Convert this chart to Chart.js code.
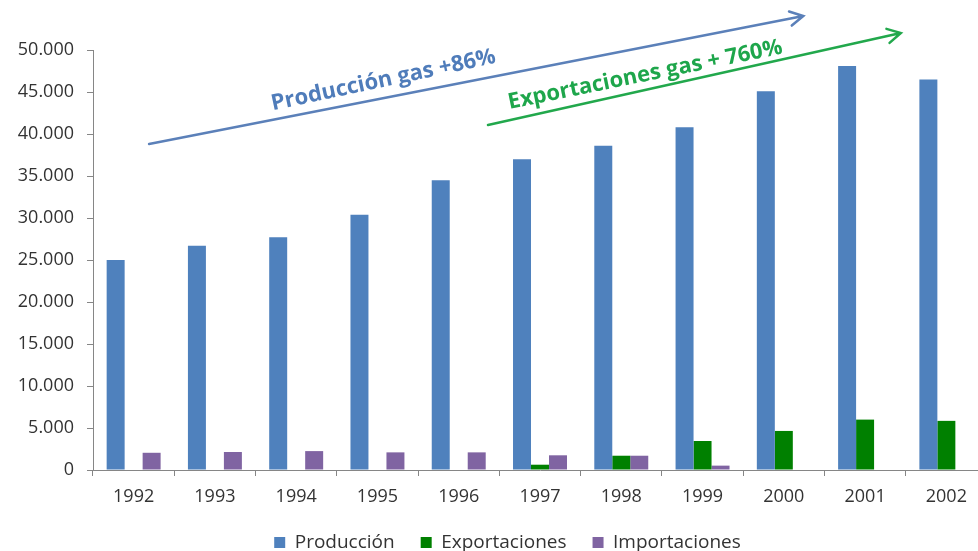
<!DOCTYPE html>
<html>
<head>
<meta charset="utf-8">
<script src="https://cdn.jsdelivr.net/npm/chart.js@4/dist/chart.umd.min.js"></script>
<style>
  html, body { margin: 0; padding: 0; background: #fff; overflow: hidden; }
  #wrap { width: 978px; height: 551px; overflow: hidden; }
</style>
</head>
<body>
<!-- el grafico original esta recortado por la derecha: el lienzo es algo mas ancho -->
<div id="wrap"><canvas id="gasChart" width="987" height="551"></canvas></div>
<script>
// --- DATOS ---
const years = ['1992', '1993', '1994', '1995', '1996', '1997', '1998', '1999', '2000', '2001', '2002'];
const produccion    = [25000, 26700, 27700, 30400, 34500, 37000, 38600, 40800, 45100, 48100, 46500];
const exportaciones = [null, null, null, null, null, 630, 1700, 3450, 4650, 6000, 5850];
const importaciones = [2050, 2140, 2250, 2100, 2100, 1750, 1700, 520, null, null, null];
const yTicks = [0, 5000, 10000, 15000, 20000, 25000, 30000, 35000, 40000, 45000, 50000];

// flechas y textos: [x (indice categoria), y (valor)]
const arrowProduccion = [[0.19, 38800], [8.24, 54050]];
const arrowExport = [[4.36, 41070], [9.44, 52020]];
const textProduccion = { label: 'Producción gas +86%', at: [3.09, 45650], angle: -12, color: '#4f7cba' };
const textExport = { label: 'Exportaciones gas + 760%', at: [6.31, 46300], angle: -11.5, color: '#1ea64b' };

const FONT = "'Open Sans', 'Noto Sans', sans-serif";

function fmtMiles(v) {
    return String(v).replace(/\B(?=(\d{3})+(?!\d))/g, '.');
}

// leyenda: menos alto y desplazada como en el original
const leyendaCompacta = {
    id: 'leyendaCompacta',
    afterInit(chart) {
        const lg = chart.legend;
        if (!lg) return;
        const origFit = lg.fit.bind(lg);
        lg.fit = function () {
            origFit();
            this.height = 44;
        };
    },
    afterLayout(chart) {
        const lg = chart.legend;
        if (!lg) return;
        lg.left += 14;
        lg.right += 14;
    }
};

// dibuja flechas y textos encima del grafico
const anotaciones = {
    id: 'anotaciones',
    afterDraw(chart) {
        const { ctx, scales: { x, y } } = chart;
        const px = p => [x.getPixelForValue(p[0]), y.getPixelForValue(p[1])];

        function flecha(pts, color) {
            const [a, b] = [px(pts[0]), px(pts[1])];
            const ang = Math.atan2(b[1] - a[1], b[0] - a[0]);
            const len = 15, spread = 0.5;
            ctx.save();
            ctx.strokeStyle = color;
            ctx.lineWidth = 2.5;
            ctx.lineCap = 'round';
            ctx.beginPath();
            ctx.moveTo(a[0], a[1]);
            ctx.lineTo(b[0], b[1]);
            ctx.moveTo(b[0] - len * Math.cos(ang - spread), b[1] - len * Math.sin(ang - spread));
            ctx.lineTo(b[0], b[1]);
            ctx.lineTo(b[0] - len * Math.cos(ang + spread), b[1] - len * Math.sin(ang + spread));
            ctx.stroke();
            ctx.restore();
        }

        function texto(t) {
            const p = px(t.at);
            ctx.save();
            ctx.translate(p[0], p[1]);
            ctx.rotate(t.angle * Math.PI / 180);
            ctx.fillStyle = t.color;
            ctx.font = 'bold 22px ' + FONT;
            ctx.textAlign = 'center';
            ctx.textBaseline = 'alphabetic';
            ctx.fillText(t.label, 0, 0);
            ctx.restore();
        }

        flecha(arrowProduccion, '#5b80b9');
        flecha(arrowExport, '#22a84c');
        texto(textProduccion);
        texto(textExport);
    }
};

const ctx = document.getElementById('gasChart').getContext('2d');
const gasChart = new Chart(ctx, {
    type: 'bar',
    data: {
        labels: years,
        datasets: [
            { label: 'Producción', data: produccion, backgroundColor: '#4f81bd' },
            { label: 'Exportaciones', data: exportaciones, backgroundColor: '#008000' },
            { label: 'Importaciones', data: importaciones, backgroundColor: '#8064a2' }
        ]
    },
    options: {
        responsive: false,
        animation: false,
        layout: { padding: { top: 50, right: 0, left: 0, bottom: 0 } },
        datasets: {
            bar: { categoryPercentage: 0.664, barPercentage: 1.0, borderWidth: 0 }
        },
        scales: {
            x: {
                afterFit(scale) { scale.height = 37; },
                grid: { display: true, offset: true, drawOnChartArea: false, tickLength: 6, color: '#868686' },
                border: { color: '#868686' },
                ticks: { color: '#333', padding: 10, font: { family: FONT, size: 18 } }
            },
            y: {
                min: 0,
                max: 50000,
                afterFit(scale) { scale.width = 93; },
                afterBuildTicks(scale) { scale.ticks = yTicks.map(v => ({ value: v })); },
                grid: { display: true, drawOnChartArea: false, tickLength: 6, color: '#868686' },
                border: { color: '#868686' },
                ticks: {
                    color: '#333',
                    padding: 13,
                    font: { family: FONT, size: 18 },
                    callback: v => fmtMiles(v)
                }
            }
        },
        plugins: {
            legend: {
                position: 'bottom',
                labels: {
                    boxWidth: 11,
                    boxHeight: 11,
                    padding: 26,
                    color: '#333',
                    font: { family: FONT, size: 19 }
                }
            },
            tooltip: { enabled: false }
        }
    },
    plugins: [leyendaCompacta, anotaciones]
});
</script>
</body>
</html>
